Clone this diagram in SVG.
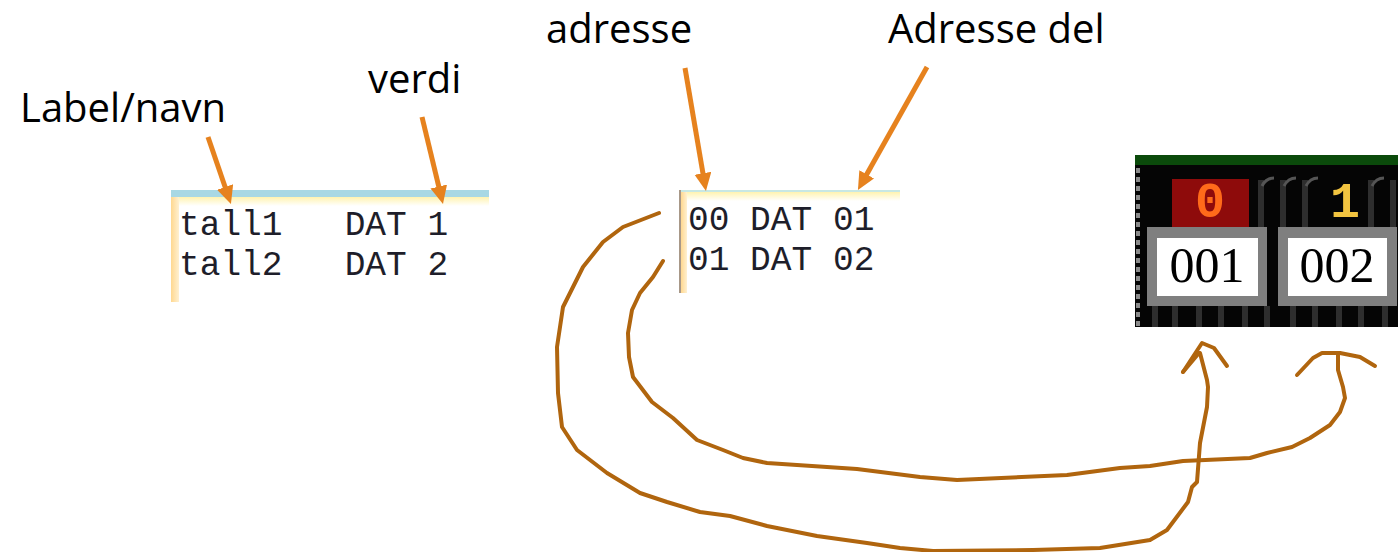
<svg xmlns="http://www.w3.org/2000/svg" width="1398" height="552" viewBox="0 0 1398 552">
  <style>
    .lbl { font-family: "Open Sans", "Noto Sans", sans-serif; font-size: 40px; fill: #000; }
    .code { font-family: "Liberation Mono", "Courier New", monospace; font-size: 34.5px; fill: #1e1e2a; }
    .pt { stroke: #E6821E; stroke-width: 5; fill: none; }
    .hand { stroke: #B0650E; stroke-width: 4; fill: none; stroke-linecap: round; stroke-linejoin: round; }
    .box { fill: #7F7F7F; }
    .inner { fill: #FFFFFF; }
    .num { font-family: "Liberation Serif", "Times New Roman", serif; font-size: 50px; fill: #000; text-anchor: middle; }
    .pix { font-family: "Liberation Mono", "Courier New", monospace; font-weight: bold; font-size: 50px; text-anchor: middle; }
    .col { fill: #2e2e2e; }
  </style>
  <defs>
    <marker id="oh" markerUnits="userSpaceOnUse" markerWidth="20" markerHeight="18" refX="4" refY="8.5" orient="auto">
      <path d="M0,0 L18,8.5 L0,17 z" fill="#E6821E"/>
    </marker>
    <linearGradient id="yel" x1="0" y1="0" x2="0" y2="1">
      <stop offset="0" stop-color="#FFF3B0"/>
      <stop offset="1" stop-color="#FFFFFF"/>
    </linearGradient>
    <linearGradient id="strip" x1="0" y1="0" x2="1" y2="0">
      <stop offset="0" stop-color="#FFD890"/>
      <stop offset="1" stop-color="#FFF0D0"/>
    </linearGradient>
    <linearGradient id="strip2" x1="0" y1="0" x2="0" y2="1">
      <stop offset="0" stop-color="#FFFFFF" stop-opacity="0.6"/>
      <stop offset="0.15" stop-color="#FFFFFF" stop-opacity="0"/>
    </linearGradient>
    <linearGradient id="colg" x1="0" y1="0" x2="1" y2="0">
      <stop offset="0" stop-color="#1a1a1a"/>
      <stop offset="0.5" stop-color="#3c3c3c"/>
      <stop offset="1" stop-color="#1a1a1a"/>
    </linearGradient>
  </defs>

  <g id="label-navn"><text class="lbl" x="20" y="122">Label/navn</text></g>
  <g id="label-verdi"><text class="lbl" x="368" y="93">verdi</text></g>
  <g id="label-adresse"><text class="lbl" x="546" y="43">adresse</text></g>
  <g id="label-adresse-del"><text class="lbl" x="888" y="43">Adresse del</text></g>

  <g id="code-labels">
    <rect x="171" y="190" width="318" height="7" fill="#A8D8E4"/>
    <rect x="171" y="197" width="318" height="9" fill="url(#yel)"/>
    <rect x="171" y="197" width="8" height="105" fill="url(#strip)"/>
    <text class="code" x="179" y="235" xml:space="preserve">tall1   DAT 1</text>
    <text class="code" x="179" y="275" xml:space="preserve">tall2   DAT 2</text>
  </g>

  <g id="code-addresses">
    <rect x="679" y="190" width="221" height="2" fill="#C8E8E4"/>
    <rect x="679" y="192" width="221" height="9" fill="url(#yel)"/>
    <rect x="679" y="190" width="2" height="103" fill="#A89888"/>
    <rect x="681" y="192" width="6" height="101" fill="url(#strip)"/>
    <text class="code" x="688" y="230">00 DAT 01</text>
    <text class="code" x="688" y="270">01 DAT 02</text>
  </g>

  <g id="memory-display">
    <rect x="1135" y="155" width="263" height="10" fill="#0B4A0B"/>
    <rect x="1135" y="165" width="263" height="162" fill="#050505"/>
    <g>
      <rect class="col" x="1152" y="306" width="6" height="21" fill="url(#colg)"/>
      <rect class="col" x="1172" y="306" width="6" height="21" fill="url(#colg)"/>
      <rect class="col" x="1196" y="306" width="6" height="21" fill="url(#colg)"/>
      <rect class="col" x="1218" y="306" width="6" height="21" fill="url(#colg)"/>
      <rect class="col" x="1242" y="306" width="6" height="21" fill="url(#colg)"/>
      <rect class="col" x="1264" y="306" width="6" height="21" fill="url(#colg)"/>
      <rect class="col" x="1290" y="306" width="6" height="21" fill="url(#colg)"/>
      <rect class="col" x="1312" y="306" width="6" height="21" fill="url(#colg)"/>
      <rect class="col" x="1336" y="306" width="6" height="21" fill="url(#colg)"/>
      <rect class="col" x="1358" y="306" width="6" height="21" fill="url(#colg)"/>
      <rect class="col" x="1382" y="306" width="6" height="21" fill="url(#colg)"/>
      <rect class="col" x="1258" y="180" width="6" height="47" fill="url(#colg)"/>
      <rect class="col" x="1280" y="180" width="6" height="47" fill="url(#colg)"/>
      <rect class="col" x="1302" y="180" width="6" height="47" fill="url(#colg)"/>
      <rect class="col" x="1368" y="180" width="6" height="47" fill="url(#colg)"/>
      <rect class="col" x="1390" y="180" width="6" height="47" fill="url(#colg)"/>
      <path d="M1262,186 q4,-8 12,-8 M1284,186 q4,-8 12,-8 M1306,186 q4,-8 12,-8 M1372,186 q4,-8 12,-8" stroke="#555" stroke-width="3" fill="none"/>
      <path d="M1138,168 L1138,327" stroke="#8a8a8a" stroke-width="4" stroke-dasharray="5 4"/>
    </g>
    <rect x="1172" y="179" width="77" height="48" fill="#8E0B0B"/>
    <text class="pix" x="1210" y="217" fill="#FF6A1A">0</text>
    <text class="pix" x="1345" y="217" fill="#F2C440">1</text>
    <rect class="box" x="1147" y="227" width="120" height="79"/>
    <rect class="inner" x="1157" y="238" width="101" height="58"/>
    <text class="num" x="1207" y="282">001</text>
    <rect class="box" x="1278" y="227" width="119" height="79"/>
    <rect class="inner" x="1288" y="238" width="99" height="58"/>
    <text class="num" x="1337" y="282">002</text>
  </g>

  <g id="connectors">
    <line class="pt" x1="208" y1="137" x2="226.4" y2="190.8" marker-end="url(#oh)"/>
    <line class="pt" x1="422" y1="117" x2="439.7" y2="190.4" marker-end="url(#oh)"/>
    <line class="pt" x1="685" y1="68" x2="703.6" y2="177.2" marker-end="url(#oh)"/>
    <line class="pt" x1="927" y1="67" x2="864.8" y2="177.8" marker-end="url(#oh)"/>

    <polyline class="hand" points="659,213 623,227 603,242 583,267 573,287 563,307 557,347 558,393 562,427 577,450 607,473 640,493 667,502 700,512 730,516 767,526 817,536 867,543 900,548 933,551 1033,550 1100,548 1150,540 1167,530 1188,502 1192,487 1197,482 1200,443 1207,407 1208,387 1207,380 1200,353"/>
    <polyline class="hand" points="1183,372 1202,343 1214,348 1227,366"/>
    <polyline class="hand" points="1183,372 1199,353"/>

    <polyline class="hand" points="663,261 653,277 640,293 632,310 628,333 629,357 633,377 652,402 673,418 697,440 723,450 743,458 767,463 857,469 920,477 957,480 1067,475 1120,468 1150,466 1183,461 1250,458 1267,453 1292,447 1310,438 1330,425 1340,412 1345,398 1343,387 1338,370 1338,355"/>
    <polyline class="hand" points="1297,375 1313,358 1322,353 1340,353 1360,357 1375,366"/>
  </g>
</svg>
